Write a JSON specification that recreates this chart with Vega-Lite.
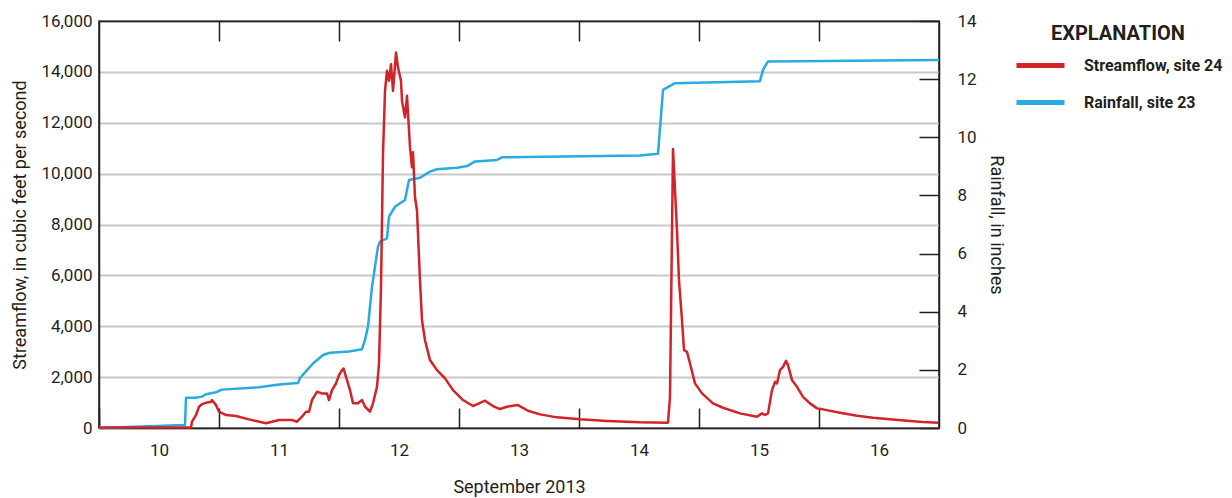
{
  "$schema": "https://vega.github.io/schema/vega-lite/v6.json",
  "width": 840,
  "height": 407,
  "autosize": {"type": "none"},
  "padding": {"left": 99, "top": 21, "right": 293, "bottom": 70},
  "background": "white",
  "config": {
    "font": "Roboto, sans-serif",
    "view": {"stroke": "#231f20", "strokeWidth": 1.5},
    "axis": {
      "labelFont": "Roboto, sans-serif",
      "labelFontSize": 17,
      "labelColor": "#231f20",
      "titleFont": "Roboto, sans-serif",
      "titleFontSize": 18,
      "titleFontWeight": "normal",
      "titleColor": "#231f20",
      "domainColor": "#231f20",
      "domainWidth": 1.5,
      "tickColor": "#231f20",
      "tickWidth": 1.5
    },
    "legend": {
      "labelFont": "Roboto, sans-serif",
      "titleFont": "Roboto, sans-serif"
    }
  },
  "datasets": {
    "rain": [
      {"time": "2013-09-10T00:00", "inches": 0},
      {"time": "2013-09-10T17:12", "inches": 0.1},
      {"time": "2013-09-10T17:24", "inches": 1.04},
      {"time": "2013-09-10T19:24", "inches": 1.04},
      {"time": "2013-09-10T20:36", "inches": 1.08},
      {"time": "2013-09-10T21:24", "inches": 1.16},
      {"time": "2013-09-10T23:24", "inches": 1.23},
      {"time": "2013-09-11T00:36", "inches": 1.32},
      {"time": "2013-09-11T08:00", "inches": 1.4},
      {"time": "2013-09-11T12:00", "inches": 1.5},
      {"time": "2013-09-11T15:48", "inches": 1.55},
      {"time": "2013-09-11T16:12", "inches": 1.72},
      {"time": "2013-09-11T17:36", "inches": 1.99},
      {"time": "2013-09-11T18:48", "inches": 2.22},
      {"time": "2013-09-11T20:48", "inches": 2.51},
      {"time": "2013-09-11T22:12", "inches": 2.59},
      {"time": "2013-09-12T02:00", "inches": 2.63},
      {"time": "2013-09-12T04:36", "inches": 2.71},
      {"time": "2013-09-12T05:12", "inches": 3.03},
      {"time": "2013-09-12T05:48", "inches": 3.49},
      {"time": "2013-09-12T06:36", "inches": 4.86},
      {"time": "2013-09-12T07:12", "inches": 5.55},
      {"time": "2013-09-12T07:48", "inches": 6.24},
      {"time": "2013-09-12T08:12", "inches": 6.41},
      {"time": "2013-09-12T09:36", "inches": 6.52},
      {"time": "2013-09-12T10:00", "inches": 7.27},
      {"time": "2013-09-12T11:12", "inches": 7.61},
      {"time": "2013-09-12T12:12", "inches": 7.73},
      {"time": "2013-09-12T13:12", "inches": 7.84},
      {"time": "2013-09-12T14:00", "inches": 8.53},
      {"time": "2013-09-12T16:12", "inches": 8.61},
      {"time": "2013-09-12T18:12", "inches": 8.82},
      {"time": "2013-09-12T19:36", "inches": 8.9},
      {"time": "2013-09-12T23:36", "inches": 8.95},
      {"time": "2013-09-13T01:36", "inches": 9.01},
      {"time": "2013-09-13T03:12", "inches": 9.17},
      {"time": "2013-09-13T07:36", "inches": 9.22},
      {"time": "2013-09-13T08:36", "inches": 9.31},
      {"time": "2013-09-14T12:12", "inches": 9.37},
      {"time": "2013-09-14T15:48", "inches": 9.43},
      {"time": "2013-09-14T16:48", "inches": 11.63},
      {"time": "2013-09-14T19:12", "inches": 11.86},
      {"time": "2013-09-15T12:12", "inches": 11.93},
      {"time": "2013-09-15T12:48", "inches": 12.32},
      {"time": "2013-09-15T13:48", "inches": 12.61},
      {"time": "2013-09-17T00:00", "inches": 12.66}
    ],
    "flow": [
      {"time": "2013-09-10T00:00", "cfs": 20},
      {"time": "2013-09-10T18:24", "cfs": 20},
      {"time": "2013-09-10T18:36", "cfs": 250},
      {"time": "2013-09-10T19:24", "cfs": 510},
      {"time": "2013-09-10T20:00", "cfs": 835},
      {"time": "2013-09-10T20:36", "cfs": 940},
      {"time": "2013-09-10T21:24", "cfs": 990},
      {"time": "2013-09-10T22:24", "cfs": 1030},
      {"time": "2013-09-10T22:36", "cfs": 1100},
      {"time": "2013-09-10T23:24", "cfs": 900},
      {"time": "2013-09-11T00:00", "cfs": 640},
      {"time": "2013-09-11T01:24", "cfs": 510},
      {"time": "2013-09-11T03:24", "cfs": 470},
      {"time": "2013-09-11T06:00", "cfs": 340},
      {"time": "2013-09-11T09:24", "cfs": 185},
      {"time": "2013-09-11T12:00", "cfs": 314},
      {"time": "2013-09-11T14:36", "cfs": 314},
      {"time": "2013-09-11T15:36", "cfs": 247},
      {"time": "2013-09-11T16:36", "cfs": 443},
      {"time": "2013-09-11T17:24", "cfs": 640},
      {"time": "2013-09-11T18:00", "cfs": 640},
      {"time": "2013-09-11T18:36", "cfs": 1100},
      {"time": "2013-09-11T19:36", "cfs": 1424},
      {"time": "2013-09-11T20:36", "cfs": 1360},
      {"time": "2013-09-11T21:36", "cfs": 1360},
      {"time": "2013-09-11T22:00", "cfs": 1100},
      {"time": "2013-09-11T22:36", "cfs": 1490},
      {"time": "2013-09-11T23:24", "cfs": 1750},
      {"time": "2013-09-12T00:00", "cfs": 2080},
      {"time": "2013-09-12T00:36", "cfs": 2275},
      {"time": "2013-09-12T00:54", "cfs": 2340},
      {"time": "2013-09-12T01:36", "cfs": 1880},
      {"time": "2013-09-12T02:12", "cfs": 1490},
      {"time": "2013-09-12T02:48", "cfs": 970},
      {"time": "2013-09-12T03:48", "cfs": 970},
      {"time": "2013-09-12T04:36", "cfs": 1100},
      {"time": "2013-09-12T05:12", "cfs": 835},
      {"time": "2013-09-12T06:12", "cfs": 640},
      {"time": "2013-09-12T06:48", "cfs": 970},
      {"time": "2013-09-12T07:36", "cfs": 1620},
      {"time": "2013-09-12T08:00", "cfs": 2540},
      {"time": "2013-09-12T08:24", "cfs": 5540},
      {"time": "2013-09-12T08:48", "cfs": 10770},
      {"time": "2013-09-12T09:12", "cfs": 13250},
      {"time": "2013-09-12T09:36", "cfs": 14040},
      {"time": "2013-09-12T10:00", "cfs": 13650},
      {"time": "2013-09-12T10:24", "cfs": 14300},
      {"time": "2013-09-12T10:48", "cfs": 13250},
      {"time": "2013-09-12T11:24", "cfs": 14760},
      {"time": "2013-09-12T11:48", "cfs": 14170},
      {"time": "2013-09-12T12:24", "cfs": 13650},
      {"time": "2013-09-12T12:36", "cfs": 12860},
      {"time": "2013-09-12T13:12", "cfs": 12210},
      {"time": "2013-09-12T13:36", "cfs": 13060},
      {"time": "2013-09-12T14:12", "cfs": 11030},
      {"time": "2013-09-12T14:36", "cfs": 10250},
      {"time": "2013-09-12T14:48", "cfs": 10840},
      {"time": "2013-09-12T15:12", "cfs": 9070},
      {"time": "2013-09-12T15:36", "cfs": 8550},
      {"time": "2013-09-12T16:12", "cfs": 5800},
      {"time": "2013-09-12T16:36", "cfs": 4235},
      {"time": "2013-09-12T17:12", "cfs": 3450},
      {"time": "2013-09-12T18:12", "cfs": 2670},
      {"time": "2013-09-12T19:36", "cfs": 2275},
      {"time": "2013-09-12T21:12", "cfs": 1950},
      {"time": "2013-09-12T22:48", "cfs": 1490},
      {"time": "2013-09-13T00:48", "cfs": 1100},
      {"time": "2013-09-13T02:48", "cfs": 863},
      {"time": "2013-09-13T05:12", "cfs": 1072},
      {"time": "2013-09-13T06:48", "cfs": 863},
      {"time": "2013-09-13T08:12", "cfs": 745},
      {"time": "2013-09-13T09:36", "cfs": 835},
      {"time": "2013-09-13T11:48", "cfs": 902},
      {"time": "2013-09-13T13:48", "cfs": 679},
      {"time": "2013-09-13T16:12", "cfs": 536},
      {"time": "2013-09-13T19:36", "cfs": 418},
      {"time": "2013-09-14T00:12", "cfs": 340},
      {"time": "2013-09-14T05:36", "cfs": 275},
      {"time": "2013-09-14T12:12", "cfs": 223},
      {"time": "2013-09-14T17:48", "cfs": 208},
      {"time": "2013-09-14T18:12", "cfs": 1227},
      {"time": "2013-09-14T18:48", "cfs": 10970},
      {"time": "2013-09-14T19:36", "cfs": 7765},
      {"time": "2013-09-14T20:00", "cfs": 5800},
      {"time": "2013-09-14T20:36", "cfs": 4235},
      {"time": "2013-09-14T21:00", "cfs": 3059},
      {"time": "2013-09-14T21:36", "cfs": 2994},
      {"time": "2013-09-14T22:12", "cfs": 2537},
      {"time": "2013-09-14T23:12", "cfs": 1753},
      {"time": "2013-09-15T00:36", "cfs": 1360},
      {"time": "2013-09-15T02:48", "cfs": 968},
      {"time": "2013-09-15T04:48", "cfs": 796},
      {"time": "2013-09-15T08:12", "cfs": 575},
      {"time": "2013-09-15T11:36", "cfs": 443},
      {"time": "2013-09-15T12:36", "cfs": 575},
      {"time": "2013-09-15T13:12", "cfs": 510},
      {"time": "2013-09-15T13:48", "cfs": 575},
      {"time": "2013-09-15T14:36", "cfs": 1490},
      {"time": "2013-09-15T15:12", "cfs": 1816},
      {"time": "2013-09-15T15:36", "cfs": 1753},
      {"time": "2013-09-15T16:12", "cfs": 2275},
      {"time": "2013-09-15T16:48", "cfs": 2404},
      {"time": "2013-09-15T17:24", "cfs": 2640},
      {"time": "2013-09-15T17:48", "cfs": 2471},
      {"time": "2013-09-15T18:36", "cfs": 1882},
      {"time": "2013-09-15T19:36", "cfs": 1620},
      {"time": "2013-09-15T20:48", "cfs": 1227},
      {"time": "2013-09-15T22:12", "cfs": 968},
      {"time": "2013-09-15T23:36", "cfs": 772},
      {"time": "2013-09-16T00:48", "cfs": 733},
      {"time": "2013-09-16T04:12", "cfs": 600},
      {"time": "2013-09-16T07:36", "cfs": 483},
      {"time": "2013-09-16T10:48", "cfs": 404},
      {"time": "2013-09-16T14:12", "cfs": 340},
      {"time": "2013-09-16T17:36", "cfs": 286},
      {"time": "2013-09-16T20:48", "cfs": 235},
      {"time": "2013-09-16T23:48", "cfs": 208}
    ]
  },
  "layer": [
    {
      "data": {"name": "rain"},
      "mark": {"type": "line", "strokeWidth": 2.5, "strokeJoin": "round"},
      "encoding": {
        "x": {
          "field": "time",
          "type": "temporal",
          "scale": {"domain": [{"year": 2013, "month": 9, "date": 10}, {"year": 2013, "month": 9, "date": 17}]},
          "axis": {
            "orient": "top",
            "values": [
              {"year": 2013, "month": 9, "date": 11},
              {"year": 2013, "month": 9, "date": 12},
              {"year": 2013, "month": 9, "date": 13},
              {"year": 2013, "month": 9, "date": 14},
              {"year": 2013, "month": 9, "date": 15},
              {"year": 2013, "month": 9, "date": 16}
            ],
            "labels": false,
            "tickSize": -20,
            "grid": false,
            "title": null
          }
        },
        "y": {
          "field": "inches",
          "type": "quantitative",
          "scale": {"domain": [0, 14]},
          "axis": {
            "orient": "right",
            "values": [0, 2, 4, 6, 8, 10, 12, 14],
            "tickSize": -20,
            "grid": false,
            "labelPadding": 38,
            "title": "Rainfall, in inches",
            "titlePadding": 10
          }
        },
        "color": {"datum": "Rainfall, site 23", "type": "nominal"}
      }
    },
    {
      "data": {"name": "flow"},
      "mark": {"type": "line", "strokeWidth": 2.5, "strokeJoin": "round"},
      "encoding": {
        "x": {
          "field": "time",
          "type": "temporal",
          "axis": {
            "orient": "bottom",
            "values": [
              {"year": 2013, "month": 9, "date": 10},
              {"year": 2013, "month": 9, "date": 11},
              {"year": 2013, "month": 9, "date": 12},
              {"year": 2013, "month": 9, "date": 13},
              {"year": 2013, "month": 9, "date": 14},
              {"year": 2013, "month": 9, "date": 15},
              {"year": 2013, "month": 9, "date": 16}
            ],
            "format": "%-d",
            "labelOffset": 60,
            "labelFlush": false,
            "labelOverlap": false,
            "labelPadding": 34,
            "tickSize": -20,
            "grid": false,
            "title": "September 2013",
            "titlePadding": 20
          }
        },
        "y": {
          "field": "cfs",
          "type": "quantitative",
          "scale": {"domain": [0, 16000]},
          "axis": {
            "values": [0, 2000, 4000, 6000, 8000, 10000, 12000, 14000, 16000],
            "format": ",d",
            "ticks": false,
            "grid": true,
            "gridColor": "#c8c8c8",
            "gridWidth": 2,
            "labelPadding": 7,
            "title": "Streamflow, in cubic feet per second",
            "titlePadding": 11
          }
        },
        "color": {
          "datum": "Streamflow, site 24",
          "type": "nominal",
          "scale": {
            "domain": ["Streamflow, site 24", "Rainfall, site 23"],
            "range": ["#d2232a", "#29abe2"]
          },
          "legend": {
            "title": "EXPLANATION",
            "orient": "none",
            "legendX": 915,
            "legendY": 3,
            "symbolType": "stroke",
            "symbolSize": 2304,
            "symbolStrokeWidth": 5,
            "labelFontSize": 16,
            "labelFontWeight": "bold",
            "labelColor": "#231f20",
            "labelOffset": 17,
            "titleFontSize": 20,
            "titleFontWeight": "bold",
            "titleColor": "#231f20",
            "titleAnchor": "middle",
            "titlePadding": -5,
            "rowPadding": -11
          }
        }
      }
    }
  ],
  "resolve": {"scale": {"y": "independent"}, "axis": {"x": "independent"}}
}
